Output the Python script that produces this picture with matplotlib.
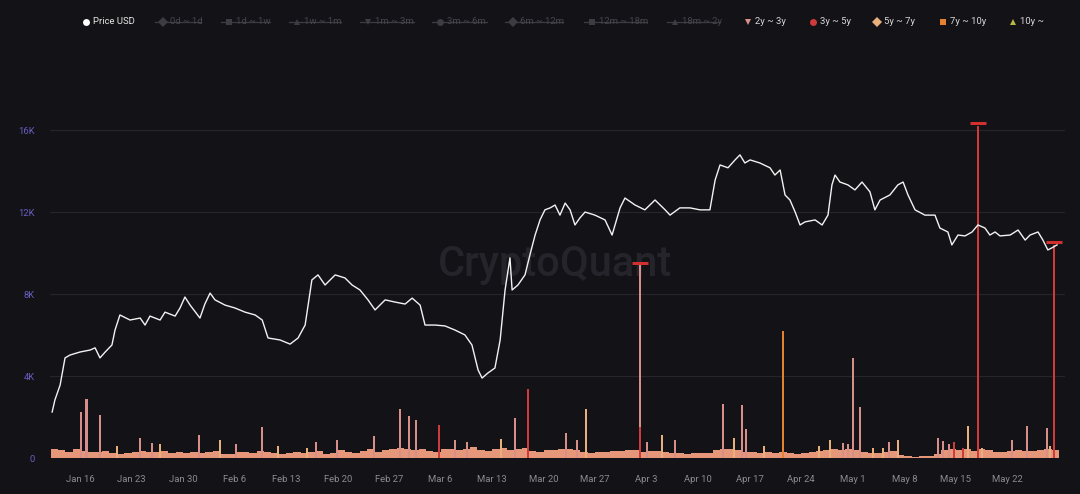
import matplotlib
matplotlib.use("Agg")
import matplotlib.pyplot as plt
from matplotlib.lines import Line2D
import pandas as pd

plt.rcParams["font.family"] = ["Roboto", "DejaVu Sans"]

# price line (USD)
price_time = [
    "01-12 05", "01-12 14", "01-13 07", "01-13 23", "01-14 15", "01-16 00", "01-17 09", "01-18 01",
    "01-18 17", "01-19 10", "01-20 08", "01-20 18", "01-21 10", "01-22 19", "01-24 04", "01-24 20",
    "01-25 12", "01-26 21", "01-27 13", "01-28 22", "01-29 14", "01-30 06", "01-30 23", "02-01 07",
    "02-01 23", "02-02 16", "02-03 08", "02-04 17", "02-06 01", "02-07 10", "02-08 19", "02-09 18",
    "02-10 13", "02-12 04", "02-13 13", "02-14 15", "02-15 14", "02-16 12", "02-17 08", "02-18 07",
    "02-19 16", "02-21 00", "02-21 23", "02-23 01", "02-24 03", "02-25 02", "02-26 11", "02-27 19",
    "03-01 04", "03-02 03", "03-03 05", "03-03 21", "03-05 06", "03-06 14", "03-07 23", "03-09 07",
    "03-10 06", "03-11 02", "03-11 15", "03-12 10", "03-13 09", "03-14 02", "03-14 18", "03-15 10",
    "03-15 17", "03-16 12", "03-17 11", "03-18 03", "03-18 20", "03-19 12", "03-20 04", "03-20 21",
    "03-21 13", "03-22 05", "03-22 22", "03-23 14", "03-24 06", "03-24 22", "03-25 15", "03-26 23",
    "03-28 08", "03-29 07", "03-30 09", "03-31 01", "04-01 10", "04-02 18", "04-04 03", "04-05 12",
    "04-06 04", "04-07 12", "04-08 21", "04-10 06", "04-11 14", "04-12 07", "04-12 23", "04-14 01",
    "04-15 00", "04-15 16", "04-16 08", "04-17 01", "04-18 09", "04-19 18", "04-20 10", "04-21 03",
    "04-21 19", "04-22 11", "04-23 04", "04-23 20", "04-24 12", "04-25 21", "04-26 20", "04-27 15",
    "04-28 04", "04-28 14", "04-29 06", "04-30 08", "05-01 07", "05-02 06", "05-03 08", "05-04 00",
    "05-04 17", "05-06 01", "05-07 03", "05-07 20", "05-08 12", "05-09 11", "05-10 19", "05-12 04",
    "05-12 20", "05-13 22", "05-14 11", "05-15 07", "05-16 06", "05-17 05", "05-18 00", "05-18 23",
    "05-19 15", "05-20 08", "05-21 00", "05-22 09", "05-23 11", "05-24 10", "05-25 02", "05-26 04",
    "05-26 20", "05-27 12", "05-28 02", "05-28 18",
]
price_usd = [
    18750, 19300, 19980, 21220, 21350, 21490, 21580, 21680,
    21220, 21490, 21810, 22490, 23180, 22950, 23040, 22720,
    23130, 22950, 23310, 23130, 23500, 24000, 23630, 23040,
    23680, 24180, 23870, 23630, 23500, 23310, 23180, 22950,
    22130, 22040, 21850, 22130, 22720, 24780, 25010, 24550,
    25010, 24870, 24550, 24320, 23870, 23410, 23870, 23770,
    23680, 23950, 23630, 22720, 22720, 22680, 22490, 22270,
    21810, 20670, 20300, 20530, 20760, 22040, 24320, 25790,
    24320, 24550, 25010, 25920, 26830, 27520, 27980, 28070,
    28200, 27740, 28290, 27980, 27290, 27610, 27880, 27740,
    27520, 26830, 28070, 28520, 28200, 27980, 28430, 27980,
    27740, 28070, 28070, 27980, 27980, 29340, 30030, 29900,
    30260, 30490, 30120, 30260, 30120, 29900, 29570, 29800,
    28660, 28430, 27880, 27290, 27430, 27520, 27290, 27740,
    29120, 29570, 29250, 29120, 28890, 29250, 28800, 27980,
    28430, 28660, 29120, 29250, 28660, 27980, 27740, 27740,
    27150, 26970, 26380, 26830, 26790, 26970, 27290, 27150,
    26830, 26970, 26790, 26830, 27060, 26600, 26830, 26970,
    26600, 26150, 26250, 26380,
]

# daily background level of spent outputs (2y+ bands)
base_start = "2023-01-12"
base_values = [
    450, 380, 300, 420, 350, 300, 280,
    320, 250, 200, 260, 300, 350, 280,
    300, 360, 240, 280, 230, 300, 250,
    280, 320, 200, 190, 300, 270, 220,
    350, 300, 250, 200, 230, 280, 250,
    300, 330, 210, 260, 380, 300, 260,
    350, 420, 300, 380, 450, 500, 420,
    380, 420, 350, 300, 460, 420, 380,
    450, 520, 380, 350, 420, 480, 400,
    420, 500, 350, 300, 380, 400, 450,
    420, 380, 300, 250, 280, 300, 320,
    350, 400, 380, 300, 320, 350, 280,
    250, 240, 200, 220, 230, 260, 380,
    420, 450, 380, 300, 280, 250, 300,
    260, 300, 240, 200, 260, 280, 350,
    380, 420, 400, 430, 380, 300, 250,
    220, 300, 320, 150, 80, 70, 90,
    100, 180, 400, 420, 380, 450, 350,
    420, 380, 300, 280, 320, 400, 360,
    340, 380, 420, 400,
]

# hourly spikes by age band
spike_time = [
    "01-16 02", "01-16 21", "01-18 17", "01-21 00", "01-24 04", "01-25 19", "01-26 21", "02-01 04",
    "02-04 00", "02-06 05", "02-09 17", "02-11 22", "02-15 20", "02-17 02", "02-19 22", "02-24 23",
    "02-28 12", "03-01 17", "03-02 16", "03-05 19", "03-07 23", "03-09 14", "03-14 05", "03-16 02",
    "03-17 21", "03-23 01", "03-24 13", "03-25 18", "04-02 02", "04-02 02", "04-03 01", "04-05 02",
    "04-06 20", "04-13 09", "04-14 21", "04-15 23", "04-16 12", "04-18 22", "04-21 12", "04-26 10",
    "04-27 22", "04-29 16", "04-30 08", "05-01 01", "05-01 23", "05-03 18", "05-05 02", "05-05 22",
    "05-07 03", "05-12 14", "05-13 06", "05-14 02", "05-14 18", "05-15 23", "05-16 16", "05-18 00",
    "05-18 13", "05-22 14", "05-24 16", "05-27 09", "05-27 19", "05-28 08",
]
spike_value = [
    2250, 2900, 2100, 600, 1000, 750, 700, 1100,
    900, 700, 1500, 600, 500, 800, 900, 1070,
    2400, 2050, 1850, 1600, 900, 800, 950, 1950,
    3350, 1200, 900, 2400, 1500, 7900, 800, 1100,
    900, 2650, 1000, 2600, 1400, 600, 6200, 600,
    880, 750, 700, 4900, 2500, 500, 500, 800,
    900, 1000, 850, 700, 800, 500, 1550, 16200,
    500, 900, 1550, 1450, 600, 10400,
]
spike_band = [
    "2y ~ 3y", "2y ~ 3y", "2y ~ 3y", "5y ~ 7y", "2y ~ 3y", "2y ~ 3y", "5y ~ 7y", "2y ~ 3y",
    "5y ~ 7y", "2y ~ 3y", "2y ~ 3y", "5y ~ 7y", "5y ~ 7y", "2y ~ 3y", "2y ~ 3y", "2y ~ 3y",
    "2y ~ 3y", "2y ~ 3y", "2y ~ 3y", "3y ~ 5y", "2y ~ 3y", "2y ~ 3y", "5y ~ 7y", "2y ~ 3y",
    "3y ~ 5y", "2y ~ 3y", "2y ~ 3y", "5y ~ 7y", "3y ~ 5y", "2y ~ 3y", "2y ~ 3y", "5y ~ 7y",
    "2y ~ 3y", "2y ~ 3y", "5y ~ 7y", "2y ~ 3y", "2y ~ 3y", "5y ~ 7y", "7y ~ 10y", "5y ~ 7y",
    "5y ~ 7y", "2y ~ 3y", "2y ~ 3y", "2y ~ 3y", "2y ~ 3y", "5y ~ 7y", "5y ~ 7y", "2y ~ 3y",
    "5y ~ 7y", "2y ~ 3y", "2y ~ 3y", "2y ~ 3y", "3y ~ 5y", "3y ~ 5y", "5y ~ 7y", "3y ~ 5y",
    "5y ~ 7y", "2y ~ 3y", "2y ~ 3y", "2y ~ 3y", "5y ~ 7y", "3y ~ 5y",
]

active_bands = ["2y ~ 3y", "3y ~ 5y", "5y ~ 7y", "7y ~ 10y", "10y ~"]
stack_order = ["3y ~ 5y", "2y ~ 3y", "5y ~ 7y", "7y ~ 10y", "10y ~"]
band_colors = {
    "2y ~ 3y": "#d98f89",
    "3y ~ 5y": "#cf3b3b",
    "5y ~ 7y": "#eab07c",
    "7y ~ 10y": "#e5822f",
    "10y ~": "#b8b845",
}
hidden_bands = ["0d ~ 1d", "1d ~ 1w", "1w ~ 1m", "1m ~ 3m", "3m ~ 6m", "6m ~ 12m", "12m ~ 18m", "18m ~ 2y"]

W, H = 1080, 494
bg = "#131217"

fig = plt.figure(figsize=(W / 100, H / 100), dpi=100, facecolor=bg)
ax = fig.add_axes([50 / W, 36 / H, 1015 / W, 358.75 / H])
ax.set_facecolor(bg)

# baseline band
base_dates = pd.date_range(base_start, periods=len(base_values), freq="D")
ax.bar(base_dates, base_values, width=1.0, align="edge", color="#e6977a", lw=0, zorder=2)

# spikes, stacked by band
spikes = pd.DataFrame({
    "time": pd.to_datetime(["2023-" + t + ":00" for t in spike_time]),
    "band": spike_band,
    "value": spike_value,
})
tab = spikes.pivot_table(index="time", columns="band", values="value", aggfunc="sum").fillna(0)
bottom = pd.Series(0.0, index=tab.index)
for b in stack_order:
    if b in tab.columns:
        ax.bar(tab.index, tab[b], bottom=bottom, width=0.28, color=band_colors[b], lw=0, zorder=3)
        bottom = bottom + tab[b]

# caps on the biggest spikes
big = bottom[bottom > 9000]
ax.plot(big.index, big.values + 120, linestyle="none", marker="_", ms=12, mew=2.2,
        color="#d2302f", zorder=4)

ax.set_ylim(0, 17500)
ax.set_xlim(pd.Timestamp("2023-01-11 22:00"), pd.Timestamp("2023-05-29 20:00"))
yt = [0, 4000, 8000, 12000, 16000]
ax.set_yticks(yt)
ax.set_yticklabels(["0", "4K", "8K", "12K", "16K"])
xt = pd.date_range("2023-01-16", "2023-05-22", freq="7D")
ax.set_xticks(xt)
ax.set_xticklabels([d.strftime("%b ") + str(d.day) for d in xt])
ax.tick_params(axis="y", length=0, pad=11, labelsize=6.8, labelcolor="#675dbf")
ax.tick_params(axis="x", length=0, pad=12, labelsize=6.8, labelcolor="#8a8a8f")
ax.yaxis.grid(True, color="#26252c", lw=0.8, zorder=0)
ax.set_axisbelow(True)
for s in ax.spines.values():
    s.set_visible(False)

ax.text(0.4975, 0.538, "CryptoQuant", transform=ax.transAxes, ha="center", va="center",
        fontsize=30, color="#25242a", fontweight="medium", zorder=1)

# price on hidden right axis
ax2 = ax.twinx()
ax2.plot(pd.to_datetime(["2023-" + t + ":00" for t in price_time]), price_usd,
         color="#f2f2f2", lw=1.0, zorder=5)
ax2.set_ylim(16650, 33030)
ax2.set_yticks([])
for s in ax2.spines.values():
    s.set_visible(False)

# legend row
fy = 1 - 22 / H


def legend_item(xm, label, marker, color, tcolor):
    fig.add_artist(Line2D([xm / W], [fy], transform=fig.transFigure, linestyle="none",
                          marker=marker, ms=5, color=color, markeredgewidth=0))
    fig.text((xm + 7) / W, fy, label, color=tcolor, fontsize=6.8, ha="left", va="center")


legend_item(86, "Price USD", "o", "#ffffff", "#e6e6e6")
hidden_pos = [(163, 201), (229, 270), (297, 341), (368, 414), (440, 487), (513, 563), (592, 647), (675, 720)]
markers = ["D", "s", "^", "v", "o", "D", "s", "^", "v", "o", "D", "s", "^"]
for i, (lab, (xm, xe)) in enumerate(zip(hidden_bands, hidden_pos)):
    legend_item(xm, lab, markers[i], "#3c3c42", "#45454b")
    fig.add_artist(Line2D([(xm - 8) / W, xe / W], [fy, fy], transform=fig.transFigure,
                          color="#3c3c42", lw=0.9))
active_pos = [748, 813, 877, 943, 1013]
for i, (lab, xm) in enumerate(zip(active_bands, active_pos)):
    legend_item(xm, lab, markers[8 + i], band_colors[lab], "#d8d8d8")

fig.savefig("out.png", dpi=100, facecolor=bg)
